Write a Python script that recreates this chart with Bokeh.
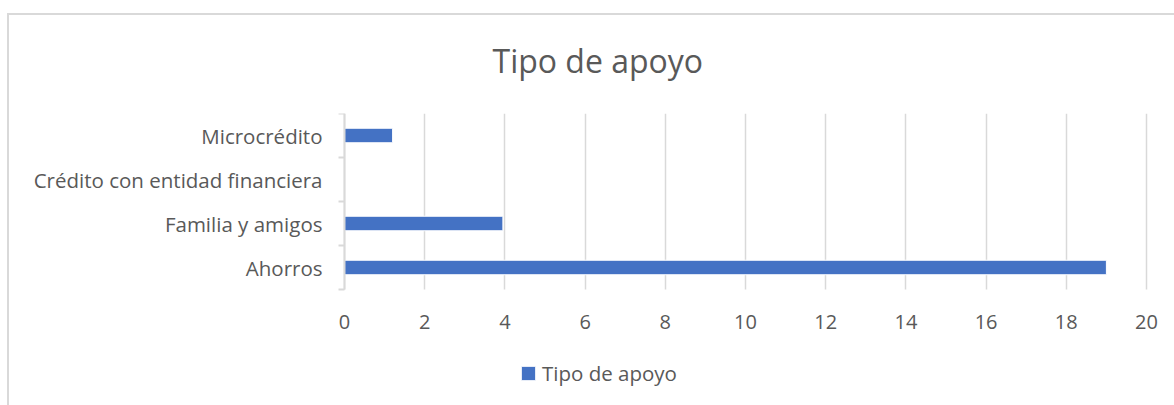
from bokeh.plotting import figure
from bokeh.models import (FixedTicker, Legend, LegendItem, Range1d, InlineStyleSheet)
from bokeh.embed import file_html
from bokeh.resources import INLINE

# ---- data ----
categories = ["Ahorros", "Familia y amigos", "Crédito con entidad financiera", "Microcrédito"]
values = [19, 3.95, 0, 1.2]
x_ticks = [0, 2, 4, 6, 8, 10, 12, 14, 16, 18, 20]
series_name = "Tipo de apoyo"
title_text = "Tipo de apoyo"

FONT = "Open Sans"
TXT = "#595959"
GRID = "#d9d9d9"
BAR = "#4472c4"

# ---- layout (pixels) ----
W, H = 1174, 405
FRAME_LEFT, FRAME_RIGHT = 10, 1170          # drawing frame
ZERO_X, MAX_X = 344, 1146                   # where x=0 and x=20 fall
FRAME_TOP, AXIS_Y, FRAME_BOTTOM = 113, 289, 398

n = len(categories)
xmax_val = x_ticks[-1]
ypos = [i + 0.5 for i in range(n)]
bounds = [i for i in range(n + 1)]
ppu_y = (AXIS_Y - FRAME_TOP) / n
ymin = -(FRAME_BOTTOM - AXIS_Y) / ppu_y
ppu_x = (MAX_X - ZERO_X) / xmax_val
xmin = -(ZERO_X - FRAME_LEFT) / ppu_x
xmax = xmax_val + (FRAME_RIGHT - MAX_X) / ppu_x

border_css = InlineStyleSheet(css="""
:host::after {
  content: '';
  position: absolute;
  left: 7px; top: 13px; right: 0px; bottom: 0px;
  border-left: 2px solid #d9d9d9;
  border-top: 2px solid #d9d9d9;
  pointer-events: none;
}
""")

p = figure(width=W, height=H, output_backend="svg", toolbar_location=None,
           x_range=Range1d(xmin, xmax), y_range=Range1d(ymin, n),
           min_border_left=FRAME_LEFT, min_border_right=W - FRAME_RIGHT,
           min_border_top=FRAME_TOP, min_border_bottom=H - FRAME_BOTTOM,
           stylesheets=[border_css])
p.outline_line_color = None
p.background_fill_color = "white"
p.border_fill_color = "white"

# title
p.title.text = title_text
p.title.text_font = FONT
p.title.text_font_size = "32px"
p.title.text_font_style = "normal"
p.title.text_color = TXT
p.title.align = "left"
p.title.offset = 492 - FRAME_LEFT
p.title.standoff = 63

# grid (vertical lines over the category area only)
p.ygrid.grid_line_color = None
p.xgrid.grid_line_color = GRID
p.xgrid.grid_line_width = 1.5
try:
    p.xgrid.cross_bounds = (0, n)
except AttributeError:
    p.xgrid.grid_line_color = None
    p.segment(x0=x_ticks, y0=[0] * len(x_ticks), x1=x_ticks, y1=[n] * len(x_ticks),
              line_color=GRID, line_width=1.5, level="underlay")

# bars
r = p.hbar(y=ypos, right=values, left=0, height=0.33, fill_color=BAR,
           line_color="white", line_width=1)

# x axis, fixed at the bottom of the category area
p.xaxis.fixed_location = 0
p.xaxis.ticker = FixedTicker(ticks=x_ticks)
p.xaxis.axis_line_color = None
p.xaxis.major_tick_line_color = None
p.xaxis.minor_tick_line_color = None
p.xaxis.major_tick_out = 0
p.xaxis.major_tick_in = 0
p.xaxis.major_label_standoff = 25
p.xaxis.major_label_text_font = FONT
p.xaxis.major_label_text_font_size = "20px"
p.xaxis.major_label_text_color = TXT

# y axis, fixed at x = 0
p.yaxis.fixed_location = 0
p.yaxis.bounds = (0, n)
p.yaxis.ticker = FixedTicker(ticks=ypos, minor_ticks=bounds)
p.yaxis.major_label_overrides = {y: c for y, c in zip(ypos, categories)}
p.yaxis.axis_line_color = GRID
p.yaxis.axis_line_width = 2
p.yaxis.major_tick_line_color = None
p.yaxis.major_tick_out = 0
p.yaxis.major_tick_in = 0
p.yaxis.minor_tick_line_color = GRID
p.yaxis.minor_tick_line_width = 2
p.yaxis.minor_tick_out = 6
p.yaxis.minor_tick_in = 0
p.yaxis.major_label_standoff = 16
p.yaxis.major_label_text_font = FONT
p.yaxis.major_label_text_font_size = "20.5px"
p.yaxis.major_label_text_color = TXT

# legend
legend = Legend(items=[LegendItem(label=series_name, renderers=[r])],
                location=(519 - FRAME_LEFT, 11), orientation="horizontal",
                padding=0, margin=0, border_line_color=None,
                background_fill_alpha=0, glyph_width=18, glyph_height=18,
                label_standoff=5, label_text_font=FONT,
                label_text_font_size="20.5px", label_text_color=TXT,
                label_height=20)
p.add_layout(legend, "center")

open("out.html", "w").write(file_html(p, INLINE))
